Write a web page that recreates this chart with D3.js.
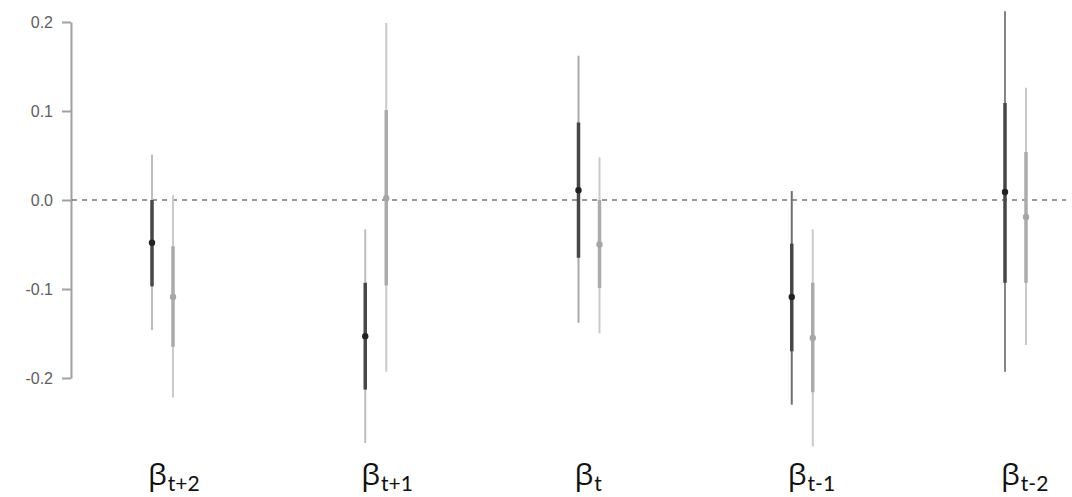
<!DOCTYPE html>
<html>
<head>
<meta charset="utf-8">
<script src="https://cdn.jsdelivr.net/npm/d3@7"></script>
<style>
  body { margin: 0; background: #fff; }
  .axis path, .axis line { stroke: #a0a0a0; stroke-width: 2; }
</style>
</head>
<body>
<script>
// data
const categories = ["t+2", "t+1", "t", "t-1", "t-2"];
const series = ["A", "B"];
const tickValues = [-0.2, -0.1, 0.0, 0.1, 0.2];

const estA = [-0.048, -0.153, 0.011, -0.109, 0.009];
const innerLoA = [-0.097, -0.213, -0.065, -0.170, -0.093];
const innerHiA = [0.0, -0.093, 0.087, -0.049, 0.109];
const outerLoA = [-0.146, -0.273, -0.138, -0.230, -0.193];
const outerHiA = [0.051, -0.033, 0.162, 0.010, 0.212];

const estB = [-0.109, 0.002, -0.050, -0.155, -0.019];
const innerLoB = [-0.165, -0.096, -0.099, -0.216, -0.093];
const innerHiB = [-0.052, 0.101, 0.0, -0.093, 0.054];
const outerLoB = [-0.222, -0.193, -0.150, -0.277, -0.163];
const outerHiB = [0.005, 0.199, 0.048, -0.033, 0.126];

// thin-line shade of the dark series differs per group in the original
const outerColA = ["#bdbdbd", "#bdbdbd", "#a9a9a9", "#707070", "#858585"];

const width = 1072, height = 497;

const svg = d3.select("body").append("svg")
  .attr("width", width).attr("height", height);

const y = d3.scaleLinear().domain([-0.2, 0.2]).range([378, 22]);
const x = d3.scalePoint().domain(categories).range([152, 1005]);
const off = d3.scalePoint().domain(series).range([0, 21]);

// y axis
const yAxis = svg.append("g").attr("class", "axis")
  .attr("transform", "translate(71,0)")
  .call(d3.axisLeft(y).tickValues(tickValues).tickSize(9).tickSizeOuter(0).tickPadding(9)
    .tickFormat(d => d.toFixed(1)));
yAxis.selectAll("text")
  .style("font-family", "'Liberation Sans', Arial, sans-serif")
  .style("font-size", "16px").style("fill", "#5e5e5e");

// zero reference line
svg.append("line")
  .attr("x1", 72).attr("x2", 1066)
  .attr("y1", y(0)).attr("y2", y(0))
  .attr("stroke", "#7a7a7a").attr("stroke-width", 1.3)
  .attr("stroke-dasharray", "5,5");

const rows = [];
categories.forEach((c, i) => {
  rows.push({ cat: c, s: "A", est: estA[i], ilo: innerLoA[i], ihi: innerHiA[i], olo: outerLoA[i], ohi: outerHiA[i],
    oc: outerColA[i], ic: "#474747", pc: "#222" });
  rows.push({ cat: c, s: "B", est: estB[i], ilo: innerLoB[i], ihi: innerHiB[i], olo: outerLoB[i], ohi: outerHiB[i],
    oc: "#cacaca", ic: "#ababab", pc: "#a6a6a6" });
});

const g = svg.append("g").selectAll("g").data(rows).enter().append("g")
  .attr("transform", d => "translate(" + (x(d.cat) + off(d.s)) + ",0)");

g.append("line")
  .attr("y1", d => y(d.olo)).attr("y2", d => y(d.ohi))
  .attr("stroke", d => d.oc).attr("stroke-width", 2);
g.append("line")
  .attr("y1", d => y(d.ilo)).attr("y2", d => y(d.ihi))
  .attr("stroke", d => d.ic).attr("stroke-width", 3.5);
g.append("circle")
  .attr("cy", d => y(d.est)).attr("r", 3.2)
  .attr("fill", d => d.pc);

// category labels
const lab = svg.append("g").selectAll("text").data(categories).enter().append("text")
  .attr("x", d => x(d) - 4).attr("y", 485)
  .style("fill", "#111");
lab.append("tspan").style("font-size", "30px")
  .style("font-family", "'Open Sans', Lato, sans-serif").text("β");
lab.append("tspan").attr("dy", 6).attr("dx", 1).style("font-size", "21px")
  .style("font-family", "'Liberation Sans Narrow', Lato, sans-serif").text(d => d);
</script>
</body>
</html>
